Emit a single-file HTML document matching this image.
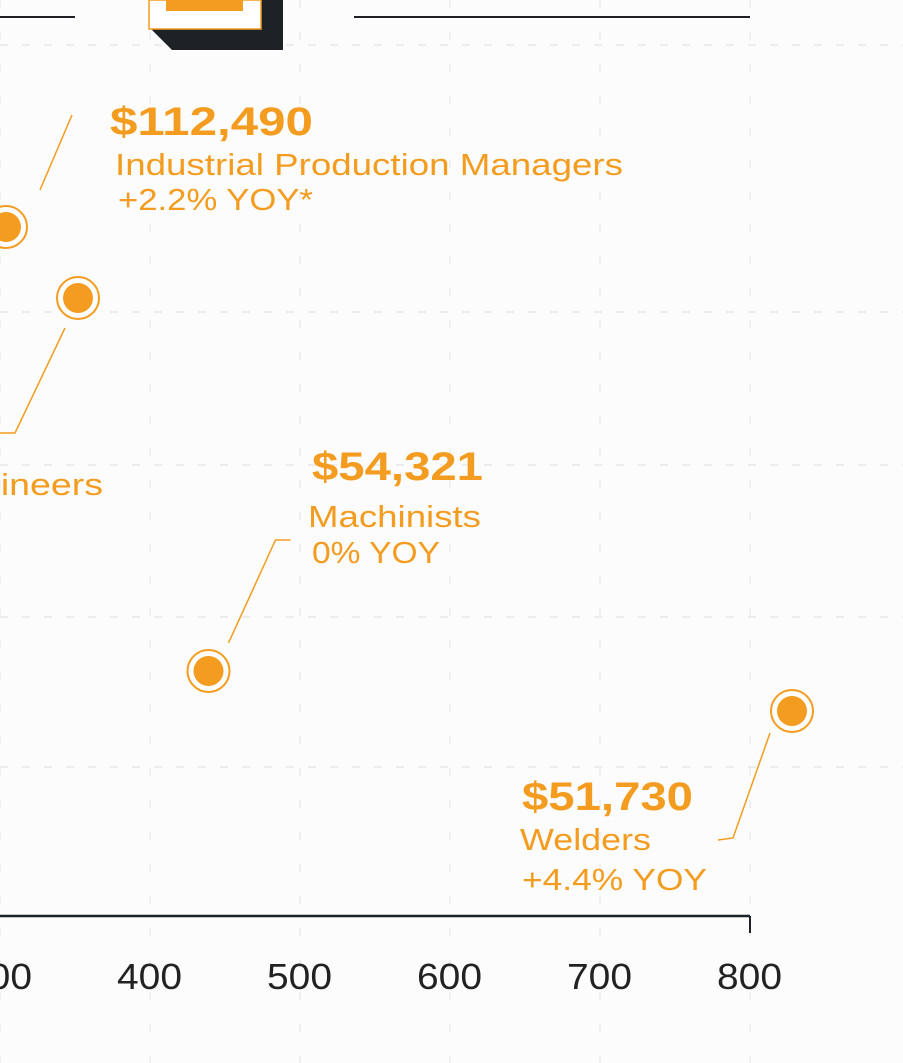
<!DOCTYPE html>
<html><head><meta charset="utf-8"><style>
html,body{margin:0;padding:0;background:#fcfcfc;}
svg{display:block;font-family:"Liberation Sans","DejaVu Sans",sans-serif;}
</style></head><body>
<svg id="chart" width="903" height="1063" viewBox="0 0 903 1063" xmlns="http://www.w3.org/2000/svg">
<rect width="903" height="1063" fill="#fcfcfc"/>
<g id="grid"></g>
<g>
<line x1="0" y1="17" x2="75" y2="17" stroke="#1e2226" stroke-width="2"/>
<line x1="354" y1="17" x2="750" y2="17" stroke="#1e2226" stroke-width="2"/>
<polygon points="150,0 283,0 283,50 172,50 150,28" fill="#1e2226"/>
<rect x="149" y="0" width="112" height="29" fill="#fff" stroke="#f39c1f" stroke-width="1.5"/>
<rect x="166" y="0" width="77" height="11" fill="#f39c1f"/>
</g>
<g id="axis"></g>
<g id="marks"></g>
</svg>
<script>
const xTicks = [300, 400, 500, 600, 700, 800];
const labels = ["Industrial Production Managers", "Engineers", "Machinists", "Welders"];
const xValues = [304, 352, 439, 828];
const yValues = [689, 618, 245, 205];
const salaries = ["$112,490", "", "$54,321", "$51,730"];
const yoy = ["+2.2% YOY*", "", "0% YOY", "+4.4% YOY"];

const NS = "http://www.w3.org/2000/svg";
function x(v){ return 150 + (v - 400) * 1.5; }
function y(v){ return 916 - v; }
function mk(tag, attrs, parent){
  const e = document.createElementNS(NS, tag);
  for (const k in attrs) e.setAttribute(k, attrs[k]);
  parent.appendChild(e); return e;
}
const grid = document.getElementById('grid');
[45, 312, 465, 617, 767].forEach(gy => {
  const l = mk('line', {x1:0, y1:gy, x2:903, y2:gy, stroke:'#ededed', 'stroke-width':2, 'stroke-dasharray':'8 14'}, grid);
  
  
});
xTicks.forEach(t => {
  const l = mk('line', {x1:x(t), y1:0, x2:x(t), y2:1063, stroke:'#f0f0f0', 'stroke-width':2, 'stroke-dasharray':'8 24'}, grid);
  
  
});
const axis = document.getElementById('axis');
const al = mk('line', {x1:0, y1:916, x2:x(800), y2:916, stroke:'#1e2226', 'stroke-width':2.5}, axis);


const tk = mk('line', {x1:x(800), y1:916, x2:x(800), y2:933, stroke:'#1e2226', 'stroke-width':2}, axis);


xTicks.forEach(t => {
  const tx = mk('text', {x:x(t)-33, y:989, 'font-size':36, fill:'#222', textLength:65, lengthAdjust:'spacingAndGlyphs'}, axis);
  tx.textContent = t;
  
  
});
const marks = document.getElementById('marks');
const OR = '#f39c1f';
const leaders = [
  [[34,-37],[66,-112]],
  [[-13,30],[-63,135],[-80,135]],
  [[20,-28],[67,-131],[82,-131]],
  [[-22,22],[-59,127],[-74,129]]
];
const textPos = [[110,135],[0,495],[312,480],[522,810]];
const nameOff = [[5,40],[0,0],[-4,47],[-2,40]];
const salW = [203, 0, 171, 171];
const nameW = [508, 0, 173, 131];
const yoyW = [195, 0, 128, 185];
const yoyOff = [[8,75],[0,0],[0,83],[0,80]];
for (let i = 0; i < labels.length; i++) {
  const cx = x(xValues[i]), cy = y(yValues[i]);
  const pts = leaders[i].map(p => [cx+p[0], cy+p[1]]);
  const pl = mk('polyline', {points: pts.map(p=>p.join(',')).join(' '), fill:'none', stroke:OR, 'stroke-width':1.5}, marks);
  
  
  const ring = mk('circle', {cx:cx, cy:cy, r:21, fill:'#fff', stroke:OR, 'stroke-width':2}, marks);
  
  
  const dot = mk('circle', {cx:cx, cy:cy, r:15, fill:OR}, marks);
  
  
  const [tx0, ty0] = textPos[i];
  if (salaries[i]) {
    const s = mk('text', {x:tx0, y:ty0, 'font-size':40, 'font-weight':'bold', fill:OR, textLength:salW[i], lengthAdjust:'spacingAndGlyphs'}, marks);
    s.textContent = salaries[i];
    
    
    const n = mk('text', {x:tx0+nameOff[i][0], y:ty0+nameOff[i][1], 'font-size':31, fill:OR, textLength:nameW[i], lengthAdjust:'spacingAndGlyphs'}, marks);
    n.textContent = labels[i];
    
    
    const g = mk('text', {x:tx0+yoyOff[i][0], y:ty0+yoyOff[i][1], 'font-size':31, fill:OR, textLength:yoyW[i], lengthAdjust:'spacingAndGlyphs'}, marks);
    g.textContent = yoy[i];
    
    
  } else {
    const n = mk('text', {x:-20, y:ty0, 'font-size':31, fill:OR, textLength:123, lengthAdjust:'spacingAndGlyphs'}, marks);
    n.textContent = "gineers";
    
    
  }
}
</script>
</body></html>
